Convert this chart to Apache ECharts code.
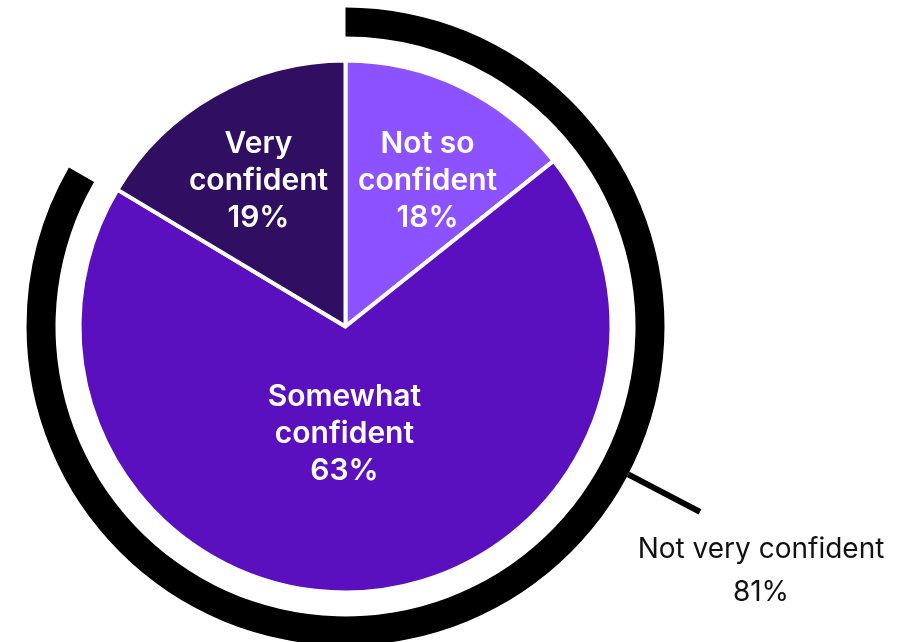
<!DOCTYPE html>
<html>
<head>
<meta charset="utf-8">
<script src="https://cdn.jsdelivr.net/npm/echarts@6/dist/echarts.min.js"></script>
<style>html,body{margin:0;padding:0;background:#fff}#c{width:907px;height:642px}</style>
</head>
<body>
<div id="c"></div>
<script>
// Categories, drawn shares and printed percentages
var categories = ['Not so confident', 'Somewhat confident', 'Very confident'];
var sliceValues = [14.3, 69.3, 16.4];
var labelPct = [18, 63, 19];
var sliceColors = ['#8C52FF', '#5B10BF', '#300E62'];

// Outer summary arc
var arcName = 'Not very confident';
var arcValues = [83.3, 16.7];
var arcPct = 81;

var FONT = 'Inter, "Noto Sans", sans-serif';
var CX = 345.5, CY = 326.5;
var labelShift = [[23, -23], [-10, -28], [-20, -27]];

var chart = echarts.init(document.getElementById('c'), null, {renderer: 'canvas'});
chart.setOption({
  animation: false,
  backgroundColor: '#ffffff',
  title: {
    text: arcName + '\n' + arcPct + '%',
    left: 761, top: 528,
    padding: 0,
    textAlign: 'center',
    textStyle: {fontFamily: FONT, fontSize: 28, fontWeight: 400, color: '#111111', lineHeight: 43}
  },
  series: [
    {
      type: 'pie',
      center: [CX, CY],
      radius: [0, 266],
      startAngle: 90,
      clockwise: true,
      silent: true,
      avoidLabelOverlap: false,
      itemStyle: {borderColor: '#ffffff', borderWidth: 4},
      label: {
        show: true, position: 'inside',
        color: '#ffffff', fontFamily: FONT, fontSize: 30, fontWeight: 600, lineHeight: 37,
        align: 'center',
        formatter: function (p) {
          var n = p.name, i = n.lastIndexOf(' ');
          return n.slice(0, i) + '\n' + n.slice(i + 1) + '\n' + labelPct[p.dataIndex] + '%';
        }
      },
      labelLayout: function (p) {
        var s = labelShift[p.dataIndex];
        return {dx: s[0], dy: s[1]};
      },
      labelLine: {show: false},
      data: categories.map(function (c, i) {
        return {name: c, value: sliceValues[i], itemStyle: {color: sliceColors[i]}};
      })
    },
    {
      type: 'pie',
      center: [CX, CY],
      radius: [290, 319],
      startAngle: 90,
      clockwise: true,
      silent: true,
      label: {show: false},
      labelLine: {show: false},
      data: [
        {name: arcName, value: arcValues[0], itemStyle: {color: '#000000'}},
        {name: 'rest', value: arcValues[1], itemStyle: {color: 'rgba(0,0,0,0)'}}
      ]
    },
    {
      type: 'pie',
      center: [CX, CY],
      radius: [0, 319],
      startAngle: 62.4,
      clockwise: true,
      silent: true,
      avoidLabelOverlap: false,
      itemStyle: {color: 'rgba(0,0,0,0)'},
      label: {show: true, position: 'outside', formatter: ' ', alignTo: 'none', fontSize: 1},
      labelLine: {show: true, length: 81, length2: 0, lineStyle: {color: '#000000', width: 6}},
      data: [
        {name: 'leader', value: 1},
        {name: 'none', value: 1, label: {show: false}, labelLine: {show: false}}
      ]
    }
  ]
});
</script>
</body>
</html>
